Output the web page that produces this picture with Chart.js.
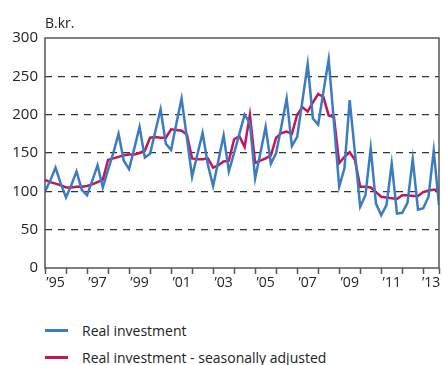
<!DOCTYPE html>
<html>
<head>
<meta charset="utf-8">
<script src="https://cdn.jsdelivr.net/npm/chart.js@4/dist/chart.umd.min.js"></script>
<style>
  body { margin: 0; background: #fff; font-family: "Open Sans", sans-serif; color: #222; }
  #wrap { position: relative; width: 443px; height: 365px; }
  #chart { position: absolute; left: 0; top: 0; }
  .item { position: absolute; left: 45px; height: 20px; display: flex; align-items: center; font-size: 14px; }
  .swatch { width: 23px; height: 3px; margin-right: 14px; }
</style>
</head>
<body>
<div id="wrap">
  <canvas id="chart" width="443" height="300"></canvas>
  <div class="item" style="top:320px"><span class="swatch" style="background:#3b7cc0"></span>Real investment</div>
  <div class="item" style="top:347px"><span class="swatch" style="background:#c4145c"></span>Real investment - seasonally adjusted</div>
</div>
<script>
// quarterly series, 1995Q1 - 2013Q4, billion kr.
var firstYear = 1995;

var realInvestment = [
    100, 114, 131, 110,   92, 108, 126, 102,   95, 114, 134, 105,
    128, 150, 175, 140,  129, 156, 184, 144,  149, 178, 207, 162,
    154, 188, 221, 170,  119, 148, 176, 135,  107, 140, 173, 126,
    150, 175, 200, 189,  117, 150, 184, 136,  150, 185, 221, 159,
    171, 218, 266, 195,  187, 230, 272, 190,  106, 130, 219, 150,
     80,  95, 156,  84,   69,  82, 136,  71,   72,  85, 142,  76,
     78,  93, 153,  82
];

var seasonallyAdjusted = [
    115, 112, 110, 108,  105, 105, 106, 106,  107, 109, 112, 115,
    141, 143, 145, 147,  148, 148, 150, 153,  170, 171, 170, 170,
    181, 180, 179, 174,  143, 142, 142, 143,  131, 134, 139, 140,
    168, 172, 158, 200,  137, 140, 143, 147,  170, 176, 178, 175,
    200, 210, 204, 216,  227, 223, 199, 197,  137, 145, 151, 141,
    106, 106, 105,  99,   93,  92,  91,  90,   95,  95,  94,  94,
     99, 101, 102, 102
];

var yTicks = [0, 50, 100, 150, 200, 250, 300];
// labelled years ('95, '97 ... '13)
var labelYears = [1995, 1997, 1999, 2001, 2003, 2005, 2007, 2009, 2011, 2013];

function toPoints(values) {
    return values.map(function (v, i) {
        return { x: firstYear + i / 4, y: v };
    });
}

var lastX = firstYear + (realInvestment.length - 1) / 4;

// tick marks at every year boundary; labels centred in the year's span
function buildXTicks(scale) {
    var ticks = [];
    for (var y = firstYear; y <= Math.floor(lastX); y++) {
        ticks.push({ value: y });
        if (labelYears.indexOf(y) >= 0) {
            ticks.push({ value: (y + Math.min(y + 1, lastX)) / 2, label: '\u2019' + String(y).slice(2) });
        }
    }
    ticks.push({ value: lastX });
    scale.ticks = ticks;
}

// frame round the plot area plus the unit label above it
var framePlugin = {
    id: 'frame',
    afterDraw: function (chart) {
        var a = chart.chartArea;
        var ctx = chart.ctx;
        ctx.save();
        ctx.strokeStyle = '#555';
        ctx.lineWidth = 1.5;
        ctx.strokeRect(a.left, a.top, a.right - a.left, a.bottom - a.top);
        ctx.fillStyle = '#222';
        ctx.font = '14px "Open Sans"';
        ctx.textAlign = 'left';
        ctx.textBaseline = 'alphabetic';
        ctx.fillText('B.kr.', a.left, a.top - 10);
        ctx.restore();
    }
};

function tickMarkColor(c) {
    var v = c.tick ? c.tick.value : 0;
    return (Number.isInteger(v) || v === lastX) ? '#555' : 'rgba(0,0,0,0)';
}

var config = {
    type: 'line',
    data: {
        datasets: [{
            label: 'Real investment',
            data: toPoints(realInvestment),
            borderColor: '#3b7cc0',
            borderWidth: 2.5,
            pointRadius: 0,
            fill: false,
            tension: 0
        },
        {
            label: 'Real investment - seasonally adjusted',
            data: toPoints(seasonallyAdjusted),
            borderColor: '#c4145c',
            borderWidth: 2.5,
            pointRadius: 0,
            fill: false,
            tension: 0
        }]
    },
    options: {
        responsive: false,
        animation: false,
        layout: { padding: { top: 38, right: 4, left: 0, bottom: 0 } },
        plugins: {
            legend: { display: false },
            tooltip: { enabled: false }
        },
        scales: {
            x: {
                type: 'linear',
                min: firstYear,
                max: lastX,
                afterBuildTicks: buildXTicks,
                border: { display: false },
                grid: {
                    drawOnChartArea: false,
                    drawTicks: true,
                    tickLength: 6,
                    tickWidth: 1.5,
                    color: tickMarkColor,
                    tickColor: tickMarkColor
                },
                ticks: {
                    autoSkip: false,
                    maxRotation: 0,
                    padding: 1,
                    color: '#222',
                    font: { family: 'Open Sans', size: 14 },
                    callback: function (value, index, ticks) {
                        return ticks[index].label || '';
                    }
                },
                afterFit: function (scale) { scale.height = 32; }
            },
            y: {
                min: 0,
                max: 300,
                afterBuildTicks: function (scale) {
                    scale.ticks = yTicks.map(function (v) { return { value: v }; });
                },
                border: { display: false, dash: [7, 6] },
                grid: {
                    drawTicks: false,
                    lineWidth: 1.2,
                    color: function (c) {
                        var v = c.tick ? c.tick.value : 0;
                        return (v === 0 || v === 300) ? 'rgba(0,0,0,0)' : '#333';
                    }
                },
                ticks: {
                    padding: 7,
                    color: '#222',
                    font: { family: 'Open Sans', size: 15 }
                },
                afterFit: function (scale) { scale.width = 45; }
            }
        }
    },
    plugins: [framePlugin]
};

var ctx = document.getElementById('chart').getContext('2d');
var investmentChart = new Chart(ctx, config);
</script>
</body>
</html>
